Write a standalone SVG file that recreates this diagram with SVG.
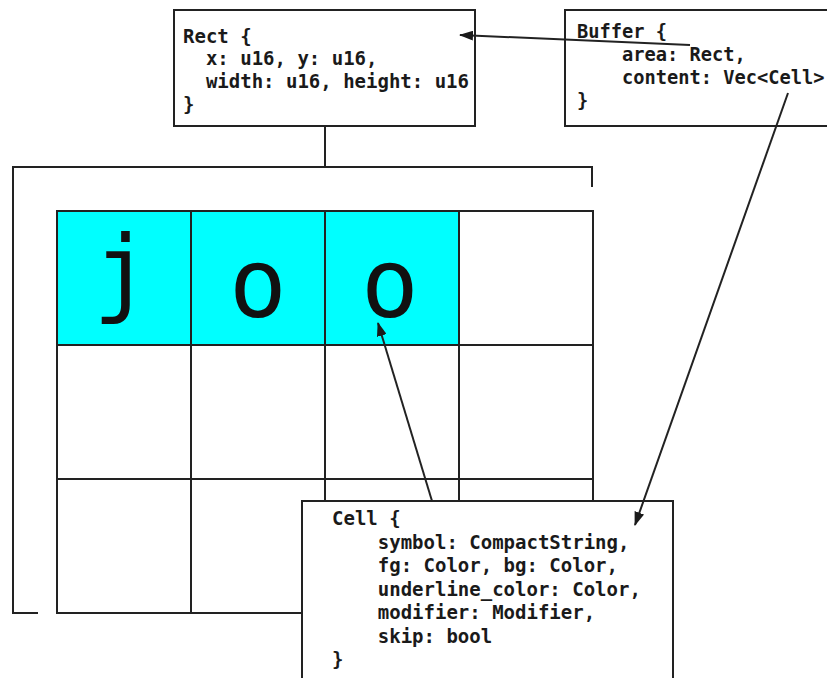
<svg xmlns="http://www.w3.org/2000/svg" width="827" height="678" viewBox="0 0 827 678">
<style>
.box{fill:#fff;stroke:#222;stroke-width:2}
.code{font-family:"DejaVu Sans Mono","Liberation Mono",monospace;font-weight:bold;font-size:19px;fill:#1a1a1a;white-space:pre}
.code.sm{font-size:18.7px}
.big{font-family:"DejaVu Sans Mono","Liberation Mono",monospace;font-size:96px;fill:#111;text-anchor:middle}
.ln{fill:none;stroke:#222;stroke-width:2}
.cell{stroke:#222;stroke-width:2}
</style>
<defs>
<marker id="ah" markerUnits="userSpaceOnUse" markerWidth="14" markerHeight="10" refX="13" refY="5" orient="auto">
<path d="M0,0 L14,5 L0,10 z" fill="#1a1a1a"/>
</marker>
</defs>
<g id="bracket">
<path class="ln" d="M325,126 V167 M592,187 V167 H13 V613 H38"/>
</g>
<g id="grid">
<rect class="cell" x="57" y="211" width="134" height="134" fill="#00ffff"/>
<rect class="cell" x="191" y="211" width="134" height="134" fill="#00ffff"/>
<rect class="cell" x="325" y="211" width="134" height="134" fill="#00ffff"/>
<rect class="cell" x="459" y="211" width="134" height="134" fill="#fff"/>
<rect class="cell" x="57" y="345" width="134" height="134" fill="#fff"/>
<rect class="cell" x="191" y="345" width="134" height="134" fill="#fff"/>
<rect class="cell" x="325" y="345" width="134" height="134" fill="#fff"/>
<rect class="cell" x="459" y="345" width="134" height="134" fill="#fff"/>
<rect class="cell" x="57" y="479" width="134" height="134" fill="#fff"/>
<rect class="cell" x="191" y="479" width="134" height="134" fill="#fff"/>
<rect class="cell" x="325" y="479" width="134" height="134" fill="#fff"/>
<rect class="cell" x="459" y="479" width="134" height="134" fill="#fff"/>
<text class="big" x="122" y="304">j</text>
<text class="big" x="258" y="317">o</text>
<text class="big" x="390" y="317">o</text>
</g>
<g id="rect-node">
<rect class="box" x="174" y="10" width="301" height="116"/>
<text class="code" x="183" y="43">Rect {</text>
<text class="code" x="183" y="65">  x: u16, y: u16,</text>
<text class="code" x="183" y="88">  width: u16, height: u16</text>
<text class="code" x="183" y="111">}</text>
</g>
<g id="buffer-node">
<rect class="box" x="565" y="10" width="270" height="116"/>
<text class="code sm" x="577" y="38">Buffer {</text>
<text class="code sm" x="577" y="61">    area: Rect,</text>
<text class="code sm" x="577" y="84">    content: Vec&lt;Cell&gt;</text>
<text class="code sm" x="577" y="107">}</text>
</g>
<g id="cell-node">
<rect class="box" x="302" y="501" width="371" height="190"/>
<text class="code" x="332" y="525">Cell {</text>
<text class="code" x="332" y="549">    symbol: CompactString,</text>
<text class="code" x="332" y="572">    fg: Color, bg: Color,</text>
<text class="code" x="332" y="596">    underline_color: Color,</text>
<text class="code" x="332" y="619">    modifier: Modifier,</text>
<text class="code" x="332" y="643">    skip: bool</text>
<text class="code" x="332" y="666">}</text>
</g>
<g id="connectors">
<line class="ln" x1="690" y1="45" x2="460" y2="35" marker-end="url(#ah)"/>
<line class="ln" x1="788" y1="93" x2="635" y2="525" marker-end="url(#ah)"/>
<line class="ln" x1="432" y1="501" x2="378" y2="323" marker-end="url(#ah)"/>
</g>
</svg>
